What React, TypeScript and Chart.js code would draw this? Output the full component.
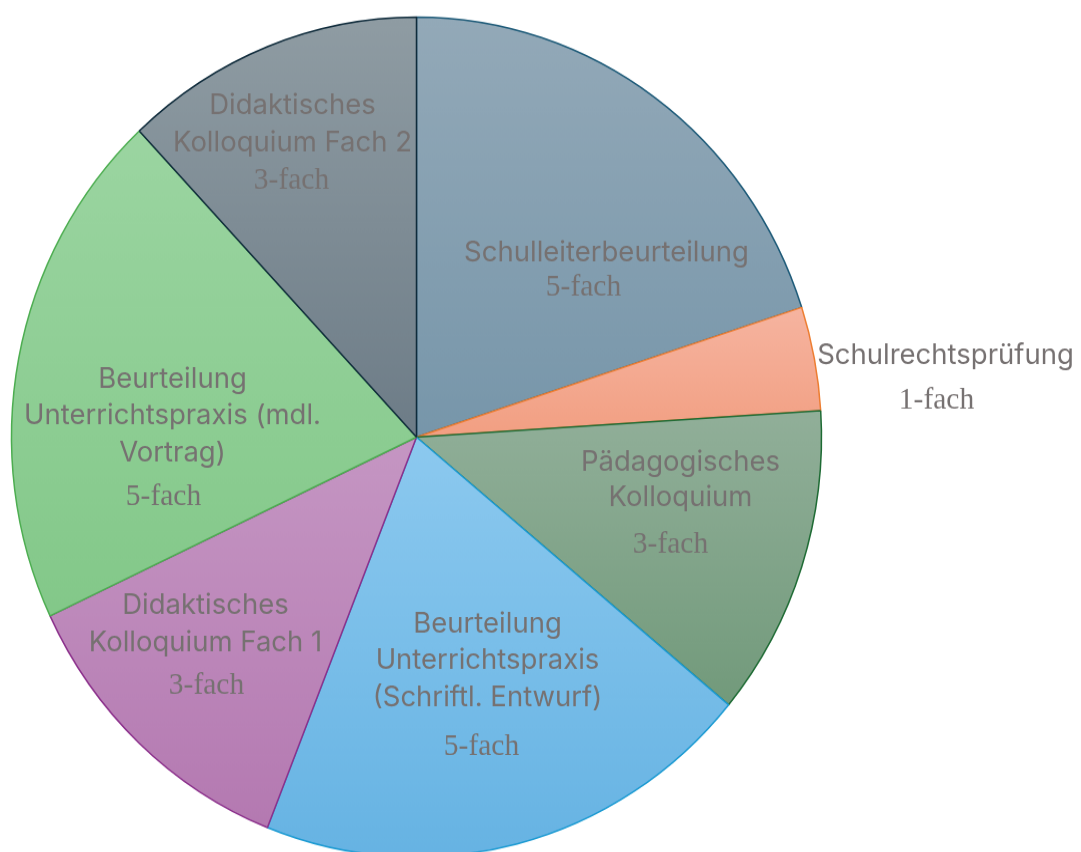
import React, { useEffect, useRef } from "react";
import { Chart, registerables } from "chart.js";

Chart.register(...registerables);

// ---- data ----
const categories: string[] = [
  "Schulleiterbeurteilung",
  "Schulrechtsprüfung",
  "Pädagogisches Kolloquium",
  "Beurteilung Unterrichtspraxis (Schriftl. Entwurf)",
  "Didaktisches Kolloquium Fach 1",
  "Beurteilung Unterrichtspraxis (mdl. Vortrag)",
  "Didaktisches Kolloquium Fach 2",
];
const weights: number[] = [5, 1, 3, 5, 3, 5, 3];
const weightLabels: string[] = ["5-fach", "1-fach", "3-fach", "5-fach", "3-fach", "5-fach", "3-fach"];
const nameLines: string[][] = [
  ["Schulleiterbeurteilung"],
  ["Schulrechtsprüfung"],
  ["Pädagogisches", "Kolloquium"],
  ["Beurteilung", "Unterrichtspraxis", "(Schriftl. Entwurf)"],
  ["Didaktisches", "Kolloquium Fach 1"],
  ["Beurteilung", "Unterrichtspraxis (mdl.", "Vortrag)"],
  ["Didaktisches", "Kolloquium Fach 2"],
];

// ---- styles ----
const gradTop = ["#93a9b8", "#f6b4a0", "#91af99", "#8cc9ef", "#c596c3", "#9bd5a1", "#8f9ca3"];
const gradBottom = ["#7796aa", "#f29f82", "#729a7b", "#66b3e3", "#b479b1", "#83c889", "#6d7c87"];
const borderColors = ["#1d5a78", "#ed7d31", "#1e6b34", "#1b9ad2", "#8b2f8b", "#4cad50", "#0f2b3b"];

const SCALE_Y = 420 / 405; // reference pie is slightly elliptical
const RADIUS = 405;
const TEXT_COLOR = "#767171";
const SANS = "Inter, 'Open Sans', sans-serif";
const SERIF = "'Liberation Serif', serif";

// label layout: per slice, [name line centres], weight label centre (final pixel offsets from pie centre)
const nameAnchors: number[][][] = [
  [[190, -184]],
  [[529, -81]],
  [[264, 25], [264, 61]],
  [[71, 187], [71, 224], [71, 261]],
  [[-211, 169], [-211, 206]],
  [[-244, -58], [-244, -21], [-244, 16]],
  [[-124, -331], [-124, -294]],
];
const weightAnchors: number[][] = [
  [167, -149],
  [520, -36],
  [254, 108],
  [65, 310],
  [-210, 249],
  [-253, 60],
  [-125, -256],
];

function sliceBounds(chart: any, index: number) {
  const ca = chart.chartArea;
  const cy = (ca.top + ca.bottom) / 2;
  const total = weights.reduce((a, b) => a + b, 0);
  let acc = 0;
  for (let i = 0; i < index; i++) acc += weights[i];
  const a0 = -Math.PI / 2 + (acc / total) * Math.PI * 2;
  const a1 = a0 + (weights[index] / total) * Math.PI * 2;
  const ys = [cy, cy + RADIUS * Math.sin(a0), cy + RADIUS * Math.sin(a1)];
  for (let k = -2; k <= 4; k++) {
    const a = k * Math.PI / 2;
    if (a > a0 && a < a1) ys.push(cy + RADIUS * Math.sin(a));
  }
  return { minY: Math.min(...ys), maxY: Math.max(...ys) };
}

const labelPlugin = {
  id: "sliceLabels",
  afterDatasetsDraw(chart: any) {
    const ctx = chart.ctx;
    const ca = chart.chartArea;
    const cx = (ca.left + ca.right) / 2;
    const cy = (ca.top + ca.bottom) / 2;
    ctx.save();
    ctx.fillStyle = TEXT_COLOR;
    ctx.textAlign = "center";
    ctx.textBaseline = "middle";
    const put = (text: string, dx: number, dy: number, font: string) => {
      ctx.save();
      ctx.translate(cx + dx, cy + dy / SCALE_Y);
      ctx.scale(1, 1 / SCALE_Y);
      ctx.font = font;
      ctx.fillText(text, 0, 0);
      ctx.restore();
    };
    nameLines.forEach((lines, i) => {
      lines.forEach((line, j) => {
        const [dx, dy] = nameAnchors[i][j];
        put(line, dx, dy, `27.5px ${SANS}`);
      });
      const [wx, wy] = weightAnchors[i];
      put(weightLabels[i], wx, wy, `29.5px ${SERIF}`);
    });
    ctx.restore();
  },
};

export default function App() {
  const ref = useRef<HTMLCanvasElement | null>(null);
  useEffect(() => {
    if (!ref.current) return;
    const chart = new Chart(ref.current, {
      type: "pie",
      data: {
        labels: categories,
        datasets: [
          {
            data: weights,
            radius: RADIUS,
            backgroundColor: (c: any) => {
              const chartObj = c.chart;
              if (!chartObj.chartArea) return gradTop[c.dataIndex];
              const { minY, maxY } = sliceBounds(chartObj, c.dataIndex);
              const g = chartObj.ctx.createLinearGradient(0, minY, 0, maxY);
              g.addColorStop(0, gradTop[c.dataIndex]);
              g.addColorStop(1, gradBottom[c.dataIndex]);
              return g;
            },
            borderColor: borderColors,
            borderWidth: 1.5,
            hoverOffset: 0,
          } as any,
        ],
      },
      options: {
        animation: false,
        responsive: true,
        maintainAspectRatio: false,
        layout: { padding: { left: 0, right: 248, top: 0, bottom: 0 } },
        plugins: {
          legend: { display: false },
          tooltip: { enabled: false },
        },
        events: [],
      },
      plugins: [labelPlugin],
    });
    return () => chart.destroy();
  }, []);

  return (
    <div
      style={{
        position: "fixed",
        left: 0,
        top: 0,
        width: 1081,
        height: 852,
        overflow: "hidden",
        background: "#ffffff",
      }}
    >
      <div
        style={{
          width: 1081,
          height: 843,
          transform: `scaleY(${SCALE_Y})`,
          transformOrigin: "0 0",
          position: "relative",
        }}
      >
        <canvas ref={ref} />
      </div>
    </div>
  );
}
